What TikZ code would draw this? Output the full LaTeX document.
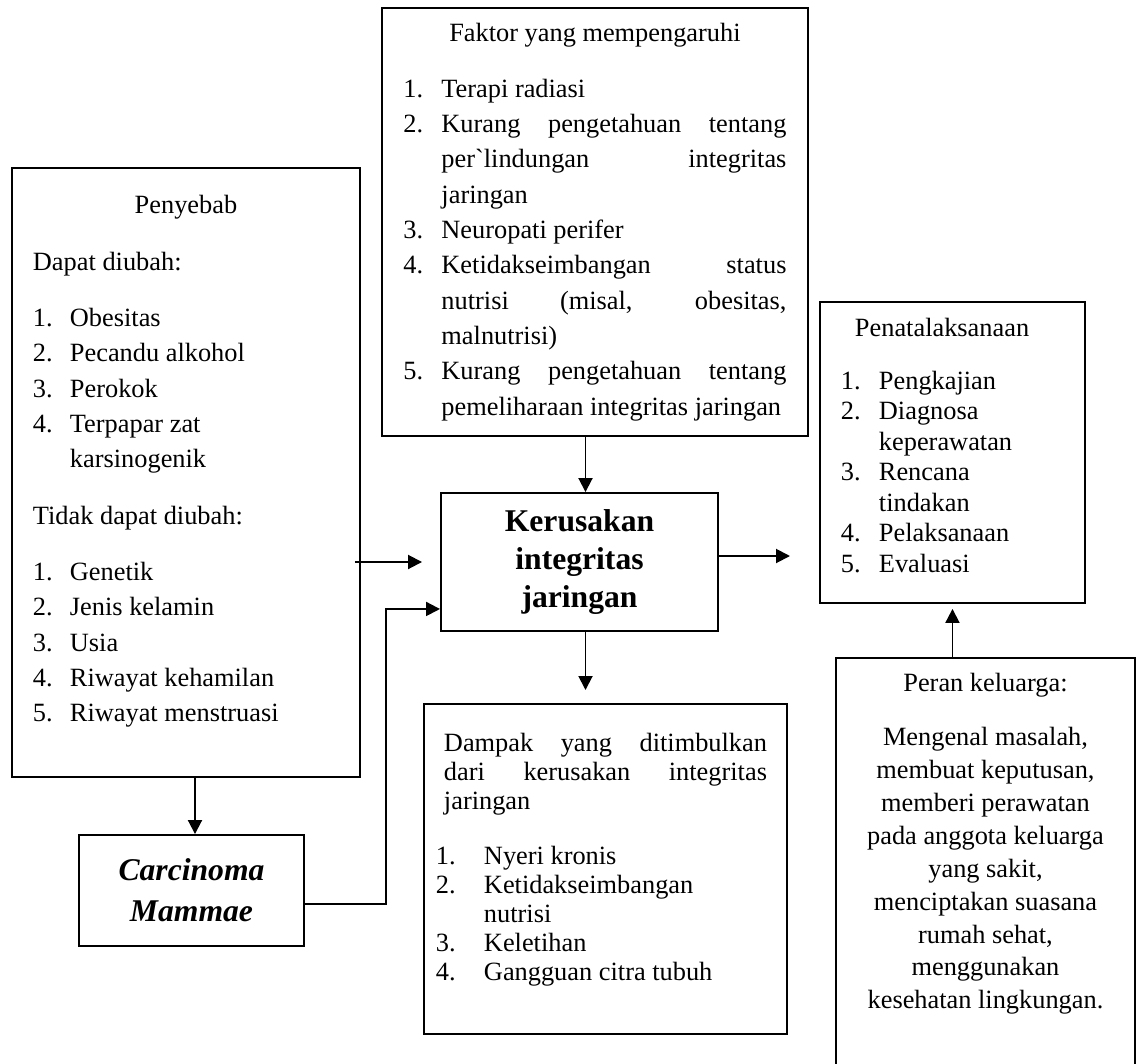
\documentclass[tikz,border=0pt]{standalone}
\usepackage{fontspec}
\setmainfont{Liberation Serif}
\usepackage{tikz}
\usetikzlibrary{arrows.meta}
\usetikzlibrary{calc}
\tikzset{box/.style = {draw, line width = 1.1pt, inner ysep = 0, anchor = north west}}
\tikzset{mid/.style = {draw, line width = 1.1pt, inner sep = 0, align = center}}
\tikzset{arr/.style = {line width = 1.1pt, -{Triangle[length = 0.28cm, width = 0.28cm]}}}
\newcommand{\jl}[1]{\makebox[\linewidth][s]{#1}}

\begin{document}
\begin{tikzpicture}
    \useasboundingbox (0, 0) rectangle (22.72, -21.28);

    \node [box, inner xsep = 0.42cm, minimum width = 6.96cm, text height = 0.92cm, text depth = 11.26cm,
           font = \fontsize{15}{20.1}\selectfont] (penyebab) at (0.22, -3.34) {%
      \begin{tabular}[t]{@{}p{0.74cm}@{}p{5.38cm}@{}}
        \multicolumn{2}{@{}c@{}}{Penyebab}\\[0.42cm]
        \multicolumn{2}{@{}l@{}}{Dapat diubah:}\\[0.42cm]
        1. & Obesitas\\
        2. & Pecandu alkohol\\
        3. & Perokok\\
        4. & Terpapar zat\\
           & karsinogenik\\[0.42cm]
        \multicolumn{2}{@{}l@{}}{Tidak dapat diubah:}\\[0.42cm]
        1. & Genetik\\
        2. & Jenis kelamin\\
        3. & Usia\\
        4. & Riwayat kehamilan\\
        5. & Riwayat menstruasi
      \end{tabular}};

    \node [box, inner xsep = 0.42cm, minimum width = 8.52cm, text height = 0.68cm, text depth = 7.88cm,
           font = \fontsize{15}{20.1}\selectfont] (faktor) at (7.62, -0.14) {%
      \begin{tabular}[t]{@{}p{0.76cm}@{}p{6.9cm}@{}}
        \multicolumn{2}{@{}c@{}}{Faktor yang mempengaruhi}\\[0.4cm]
        1. & Terapi radiasi\\
        2. & \jl{Kurang pengetahuan tentang}\\
           & \jl{per\textasciigrave lindungan integritas}\\
           & jaringan\\
        3. & Neuropati perifer\\
        4. & \jl{Ketidakseimbangan status}\\
           & \jl{nutrisi (misal, obesitas,}\\
           & malnutrisi)\\
        5. & \jl{Kurang pengetahuan tentang}\\
           & pemeliharaan integritas jaringan
      \end{tabular}};

    \node [box, inner xsep = 0.42cm, minimum width = 5.3cm, text height = 0.7cm, text depth = 5.32cm,
           font = \fontsize{15}{17.4}\selectfont] (penata) at (16.38, -6.02) {%
      \begin{tabular}[t]{@{}p{0.76cm}@{}p{3.7cm}@{}}
        \multicolumn{2}{@{}l@{}}{\hspace*{0.28cm}Penatalaksanaan}\\[0.43cm]
        1. & Pengkajian\\
        2. & Diagnosa\\
           & keperawatan\\
        3. & Rencana\\
           & tindakan\\
        4. & Pelaksanaan\\
        5. & Evaluasi
      \end{tabular}};

    \node [mid, minimum width = 5.54cm, minimum height = 2.76cm,
           font = \fontsize{18}{21.8}\selectfont\bfseries] (kerusakan) at (11.59, -11.24) {Kerusakan\\integritas\\jaringan};

    \node [mid, minimum width = 4.5cm, minimum height = 2.22cm,
           font = \fontsize{18}{23.2}\selectfont\bfseries\itshape] (carcinoma) at (3.83, -17.81) {Carcinoma\\Mammae};

    \node [box, inner xsep = 0.4cm, minimum width = 7.26cm, text height = 0.96cm, text depth = 5.64cm,
           font = \fontsize{15}{16.5}\selectfont] (dampak) at (8.46, -14.06) {%
      \begin{tabular}[t]{@{}p{0.8cm}@{}p{5.66cm}@{}}
        \multicolumn{2}{@{}p{6.46cm}@{}}{\jl{Dampak yang ditimbulkan}}\\
        \multicolumn{2}{@{}p{6.46cm}@{}}{\jl{dari kerusakan integritas}}\\
        \multicolumn{2}{@{}l@{}}{jaringan}\\[0.51cm]
        \hspace*{-0.16cm}1. & Nyeri kronis\\
        \hspace*{-0.16cm}2. & Ketidakseimbangan\\
                            & nutrisi\\
        \hspace*{-0.16cm}3. & Keletihan\\
        \hspace*{-0.16cm}4. & Gangguan citra tubuh
      \end{tabular}};

    \node [box, inner xsep = 0, minimum width = 5.98cm, text height = 0.68cm, text depth = 7.58cm,
           font = \fontsize{15}{18.7}\selectfont] (peran) at (16.7, -13.14) {%
      \begin{tabular}[t]{@{}c@{}}
        Peran keluarga:\\[0.42cm]
        Mengenal masalah,\\
        membuat keputusan,\\
        memberi perawatan\\
        pada anggota keluarga\\
        yang sakit,\\
        menciptakan suasana\\
        rumah sehat,\\
        menggunakan\\
        kesehatan lingkungan.
      \end{tabular}};

    \draw [arr] ($(kerusakan.north |- faktor.south) + (0.12, 0)$) -- ([xshift = 0.12cm]kerusakan.north);
    \draw [arr] ($(penyebab.east |- kerusakan.west) + (-0.12, 0)$) -- ([xshift = -0.36cm]kerusakan.west);
    \draw [arr] ([yshift = -0.27cm]carcinoma.east) -| ($(kerusakan.south west) + (-1.08, 0.46)$) -- ($(kerusakan.south west) + (0, 0.46)$);
    \draw [arr] ($(carcinoma.north |- penyebab.south) + (0.07, 0)$) -- ([xshift = 0.07cm]carcinoma.north);
    \draw [arr] ([xshift = 0.12cm]kerusakan.south) -- ($(kerusakan.south |- dampak.north) + (0.12, 0.26)$);
    \draw [arr] ([yshift = 0.12cm]kerusakan.east) -- ($(penata.west |- kerusakan.east) + (-0.58, 0.12)$);
    \draw [arr] (penata.south |- peran.north) -- ([yshift = -0.1cm]penata.south);
\end{tikzpicture}
\end{document}
